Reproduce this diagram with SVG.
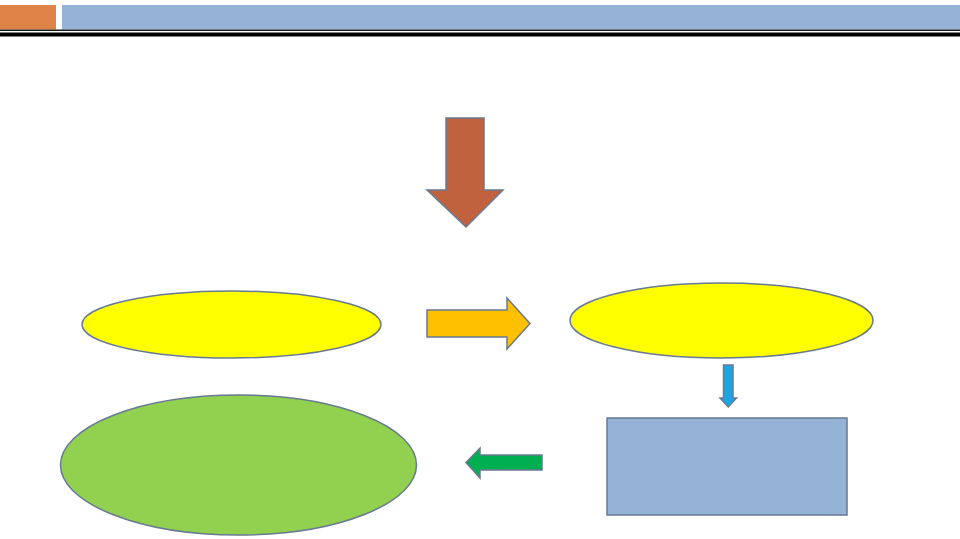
<svg xmlns="http://www.w3.org/2000/svg" width="960" height="539" viewBox="0 0 960 539">
<style>
.sh{stroke:#687A92;stroke-width:1.5;stroke-linejoin:miter}
</style>
<rect width="960" height="539" fill="#FFFFFF"/>
<g id="header">
<rect x="0" y="5" width="56" height="24.5" fill="#DF8348"/>
<rect x="62" y="5" width="898" height="24.5" fill="#95B3D7"/>
<rect x="0" y="29.5" width="960" height="1.5" fill="#1A1A1A"/>
<rect x="0" y="32.5" width="960" height="4" fill="#000000"/>
</g>
<g id="node-left-ellipse"><ellipse class="sh" cx="231.5" cy="324.5" rx="149.5" ry="33.5" fill="#FFFF00"/></g>
<g id="node-right-ellipse"><ellipse class="sh" cx="721.5" cy="320.5" rx="151.5" ry="37.5" fill="#FFFF00"/></g>
<g id="node-rect"><rect class="sh" x="607" y="418" width="240" height="97" fill="#95B3D7"/></g>
<g id="node-green-ellipse"><ellipse class="sh" cx="238.5" cy="465" rx="178" ry="70" fill="#92D050"/></g>
<g id="connectors">
<polygon class="sh" fill="#C0623D" points="446,118 484,118 484,190 503,190 466,227 427,190 446,190"/>
<polygon class="sh" fill="#FFC000" points="427,310 507,310 507,298 530,323.5 507,349 507,337 427,337"/>
<polygon class="sh" fill="#1DA4E2" points="723.5,365 733,365 733,398 736.5,398 728.25,407 720,398 723.5,398"/>
<polygon class="sh" fill="#00B050" points="542,455 542,470 480,470 480,478 466,462.5 480,448 480,455"/>
</g>
</svg>
